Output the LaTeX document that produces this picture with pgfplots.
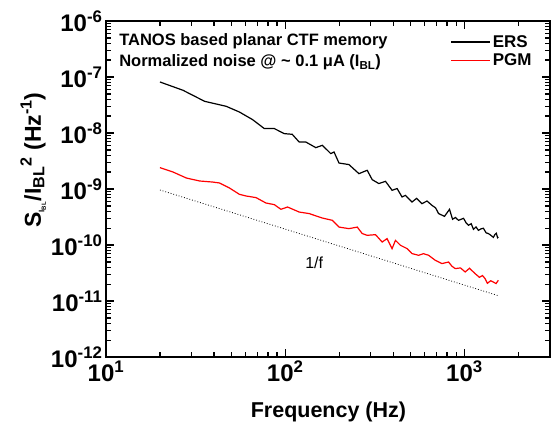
\documentclass[border=0pt]{standalone}
\usepackage{fontspec}
\setmainfont{Liberation Sans}
\usepackage{pgfplots}
\pgfplotsset{compat=1.18}
\begin{document}
\begin{tikzpicture}
\useasboundingbox (-106pt,-76pt) rectangle (446pt,357pt);
\begin{axis}[
  at={(0,0)}, anchor=south west,
  scale only axis, width=444pt, height=336pt,
  xmode=log, ymode=log,
  xmin=10, xmax=3000, ymin=1e-12, ymax=1e-6,
  axis on top,
  axis line style={line width=2pt},
  tick style={black, line width=1.3pt},
  tickwidth=8pt, subtickwidth=5pt,
  tick align=inside,
  xtick={10,100,1000},
  xticklabels={10\textsuperscript{1},10\textsuperscript{2},10\textsuperscript{3}},
  minor xtick={20,30,40,50,60,70,80,90,200,300,400,500,600,700,800,900,2000,3000},
  ytick={1e-12,1e-11,1e-10,1e-9,1e-8,1e-7,1e-6},
  yticklabels={10\textsuperscript{-12},10\textsuperscript{-11},10\textsuperscript{-10},10\textsuperscript{-9},10\textsuperscript{-8},10\textsuperscript{-7},10\textsuperscript{-6}},
  minor ytick={2e-12,3e-12,4e-12,5e-12,6e-12,7e-12,8e-12,9e-12,2e-11,3e-11,4e-11,5e-11,6e-11,7e-11,8e-11,9e-11,2e-10,3e-10,4e-10,5e-10,6e-10,7e-10,8e-10,9e-10,2e-9,3e-9,4e-9,5e-9,6e-9,7e-9,8e-9,9e-9,2e-8,3e-8,4e-8,5e-8,6e-8,7e-8,8e-8,9e-8,2e-7,3e-7,4e-7,5e-7,6e-7,7e-7,8e-7,9e-7},
  ticklabel style={font=\fontsize{24}{28}\selectfont\bfseries},
  legend style={draw=none, fill=none, at={(rel axis cs:0.97,0.97)}, anchor=north east,
    font=\fontsize{17}{20}\selectfont\bfseries, row sep=1pt,
    /tikz/every even column/.append style={column sep=6pt}},
  legend image code/.code={\draw[#1] (0pt,0pt) -- (39pt,0pt);},
  legend cell align=left,
  clip=false,
]
\addplot[black, line width=1.2pt] coordinates {
(20,8.15e-8) (26.9,5.79e-8) (35.5,3.68e-8) (46.8,3.0e-8) (55.5,2.37e-8)
(65.8,1.73e-8) (76.4,1.2e-8) (86.9,1.2e-8) (98.7,9.75e-9) (109.4,9.48e-9)
(119.6,6.9e-9) (130.3,6.9e-9) (148.1,5.48e-9) (161.1,6.03e-9) (179.4,4.29e-9)
(187.2,4.58e-9) (199.5,2.91e-9) (226.7,2.73e-9) (257.7,1.88e-9) (286.6,2.16e-9)
(305.5,1.47e-9) (332.9,1.25e-9) (362.6,1.37e-9) (394.6,9.48e-10) (420.7,1.02e-9)
(448.5,7.2e-10) (468.4,7.71e-10) (509.6,5.86e-10) (541,6.82e-10) (579.2,5.48e-10)
(618,6.1e-10) (658,5.12e-10) (690,4.6e-10) (717,3.64e-10) (774,3.25e-10) (825,4.34e-10)
(858,2.88e-10) (890,3.1e-10) (926,2.76e-10) (988,3.0e-10) (1020,2.5e-10) (1052,2.25e-10)
(1090,2.4e-10) (1122,1.91e-10) (1160,2.1e-10) (1196,1.83e-10) (1240,1.95e-10) (1275,1.99e-10)
(1320,1.65e-10) (1359,1.6e-10) (1400,1.5e-10) (1449,1.37e-10) (1480,1.55e-10) (1506,1.62e-10)
(1530,1.35e-10) (1545,1.39e-10)
};
\addlegendentry{ERS}
\addplot[red, line width=1.2pt] coordinates {
(20,2.41e-9) (23.65,2.01e-9) (28.1,1.57e-9) (33.3,1.39e-9) (39.5,1.33e-9)
(43.0,1.28e-9) (48.9,1.04e-9) (55.5,8.04e-10) (60.5,7.5e-10) (68.7,7.02e-10)
(78.1,5.62e-10) (86.9,5.26e-10) (94.6,4.34e-10) (103,4.77e-10) (119.6,3.88e-10)
(136,3.64e-10) (161.1,3.03e-10) (183.2,2.76e-10) (199.5,2.09e-10) (226.7,1.96e-10)
(252.2,2.09e-10) (268.8,1.6e-10) (286.6,1.49e-10) (319,1.53e-10) (347.3,1.13e-10)
(370,1.3e-10) (394.6,8.63e-11) (412,1.21e-10) (439.3,9.88e-11) (478,8.63e-11)
(509.6,7.02e-11) (555,6.55e-11) (590,7.0e-11) (631,6.55e-11) (687.6,5.33e-11) (748,4.66e-11)
(815,4.97e-11) (850,4.2e-11) (888,3.79e-11) (950,3.9e-11) (1009,3.3e-11) (1066,3.84e-11) (1147,3.08e-11)
(1211,2.65e-11) (1260,2.85e-11) (1303,2.51e-11) (1342,2.07e-11) (1400,2.3e-11) (1449,2.18e-11)
(1500,2.05e-11) (1545,2.34e-11)
};
\addlegendentry{PGM}
\addplot[black, dotted, line width=0.8pt, forget plot] coordinates {(20,9.6e-10) (1550,1.24e-11)};
\node[font=\fontsize{16}{19}\selectfont] at (axis cs:145,4.9e-11) {1/f};
\node[anchor=west, font=\fontsize{16.5}{19}\selectfont\bfseries] at (rel axis cs:0.022,0.94) {TANOS based planar CTF memory};
\node[anchor=west, font=\fontsize{16.5}{19}\selectfont\bfseries] at (rel axis cs:0.022,0.877) {Normalized noise @ \textasciitilde{} 0.1 μA (I\textsubscript{BL})};
\node[rotate=90, font=\fontsize{23}{27}\selectfont\bfseries] at (rel axis cs:-0.164,0.586)
  {S\textsubscript{\fontsize{8}{9}\selectfont I\textsubscript{BL}}/I\textsubscript{BL}\textsuperscript{2} (Hz\textsuperscript{-1})};
\node[font=\fontsize{21.5}{25}\selectfont\bfseries] at (rel axis cs:0.501,0) [yshift=-55pt] {Frequency (Hz)};
\end{axis}
\end{tikzpicture}
\end{document}
